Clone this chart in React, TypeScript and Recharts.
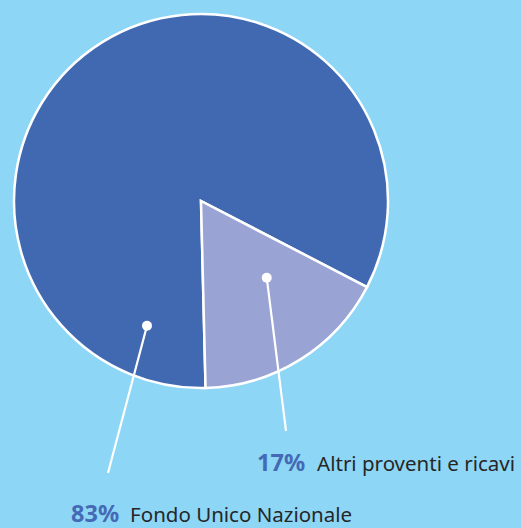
import React from 'react';
import { PieChart, Pie, Cell } from 'recharts';

const categories = ['Fondo Unico Nazionale', 'Altri proventi e ricavi'];
const values = [83, 17];
const colors = ['#4169b2', '#99a4d4'];

const data = categories.map((name, i) => ({ name, value: values[i] }));

const RAD = Math.PI / 180;
// label geometry per slice: dot polar (radius, angle), line end offset, text anchor offset
const labelLayout = [
  { dotR: 136, dotA: 246.6, endDx: -93, endDy: 272, textDx: -130, textDy: 321, gap: 11 },
  { dotR: 101, dotA: 310.6, endDx: 85, endDy: 230, textDx: 56, textDy: 270, gap: 12 },
];

const renderLabel = (props: any) => {
  const { cx, cy, index, percent, name } = props;
  const l = labelLayout[index];
  const dx = cx + l.dotR * Math.cos(l.dotA * RAD);
  const dy = cy - l.dotR * Math.sin(l.dotA * RAD);
  return (
    <g key={`lbl-${index}`}>
      <line x1={dx} y1={dy} x2={cx + l.endDx} y2={cy + l.endDy} stroke="#ffffff" strokeWidth={2.2} />
      <circle cx={dx} cy={dy} r={5} fill="#ffffff" />
      <text x={cx + l.textDx} y={cy + l.textDy} style={{ fontFamily: '"Noto Sans", sans-serif' }}>
        <tspan fontWeight={700} fontSize={23.5} fill="#4469b5">{`${Math.round(percent * 100)}%`}</tspan>
        <tspan dx={l.gap} fontSize={20.5} fill="#262626">{name}</tspan>
      </text>
    </g>
  );
};

export default function App() {
  return (
    <div style={{ position: 'fixed', left: 0, top: 0, width: 521, height: 528, background: '#8dd6f6' }}>
      <PieChart width={521} height={528} margin={{ top: 0, right: 0, bottom: 0, left: 0 }}>
        <Pie
          data={data}
          dataKey="value"
          nameKey="name"
          cx={201}
          cy={201}
          outerRadius={187}
          startAngle={-27.4}
          endAngle={332.6}
          stroke="#ffffff"
          strokeWidth={2.5}
          isAnimationActive={false}
          label={renderLabel}
          labelLine={false}
        >
          {data.map((d, i) => (
            <Cell key={d.name} fill={colors[i]} />
          ))}
        </Pie>
      </PieChart>
    </div>
  );
}
